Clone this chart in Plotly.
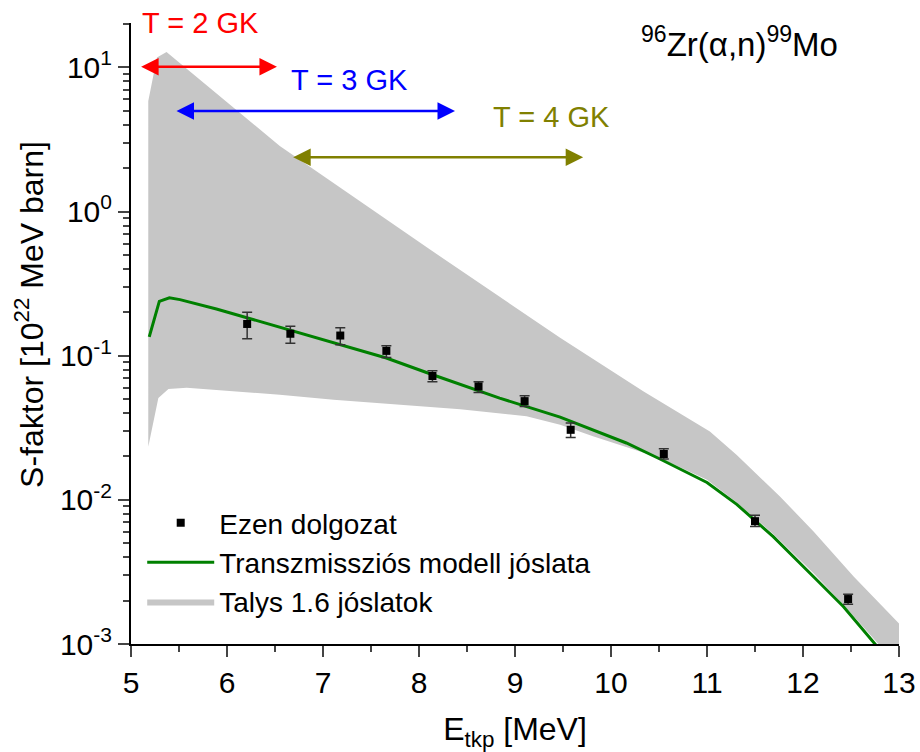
import math
import plotly.graph_objects as go

# Measured S-factor (this work)
exp_e = [6.21, 6.66, 7.18, 7.66, 8.14, 8.62, 9.10, 9.58, 10.55, 11.50, 12.47]
exp_s = [0.166, 0.142, 0.138, 0.108, 0.0723, 0.0612, 0.0484, 0.0306, 0.0208, 0.00711, 0.00205]
exp_s_hi = [0.200, 0.160, 0.156, 0.117, 0.0787, 0.0660, 0.0527, 0.0341, 0.0226, 0.00783, 0.00221]
exp_s_lo = [0.131, 0.122, 0.119, 0.097, 0.0660, 0.0556, 0.0445, 0.0271, 0.0192, 0.00653, 0.00189]

# Transmission model prediction
model_e = [5.19, 5.295, 5.40, 5.51, 5.89, 7.11, 7.66, 8.15, 8.43, 8.84, 9.47, 10.16,
           10.51, 11.0, 11.31, 11.69, 12.11, 12.42, 12.75, 13.0]
model_s = [0.135, 0.238, 0.252, 0.245, 0.211, 0.122, 0.0964, 0.0735, 0.0630, 0.0508, 0.0375, 0.0248,
           0.0192, 0.0132, 0.0093, 0.00556, 0.00293, 0.00182, 0.00100, 0.00068]

# Talys 1.6 prediction band: upper and lower envelope
talys_up_e = [5.18, 5.27, 5.37, 6.55, 8.115, 9.47, 10.34, 11.03, 11.31, 11.76, 12.11, 12.53, 13.0]
talys_up_s = [5.84, 11.7, 12.8, 2.85, 0.545, 0.133, 0.0565, 0.0298, 0.0205, 0.01055, 0.00604, 0.00293, 0.00139]
talys_lo_e = [5.18, 5.285, 5.39, 5.58, 6.55, 7.11, 8.43, 9.12, 9.47, 9.82, 10.51, 11.0, 11.3,
              11.69, 12.11, 12.42, 12.78, 13.0]
talys_lo_s = [0.0234, 0.0508, 0.0587, 0.0600, 0.0536, 0.0494, 0.0425, 0.0380, 0.0332, 0.0275, 0.0195,
              0.0138, 0.0097, 0.0058, 0.0031, 0.00188, 0.00101, 0.0007]

# Gamow windows (energy ranges) for different temperatures
gamow_labels = ["T = 2 GK", "T = 3 GK", "T = 4 GK"]
gamow_e_lo = [5.09, 5.458, 6.674]
gamow_e_hi = [6.52, 8.375, 9.71]
gamow_level = [10.1, 4.98, 2.38]
gamow_colors = ["#ff0000", "#0000ff", "#808000"]

x_ticks = [5, 6, 7, 8, 9, 10, 11, 12, 13]
y_tickvals = [1e-3, 1e-2, 1e-1, 1e0, 1e1]
y_ticktext = ["10<sup>-3</sup>", "10<sup>-2</sup>", "10<sup>-1</sup>", "10<sup>0</sup>", "10<sup>1</sup>"]

FONT = "Liberation Sans, Arial, sans-serif"

fig = go.Figure()

fig.add_trace(go.Scatter(
    x=talys_up_e + talys_lo_e[::-1],
    y=talys_up_s + talys_lo_s[::-1],
    fill="toself", fillcolor="#c6c6c6", mode="lines",
    line=dict(width=0, color="#c6c6c6"),
    name="Talys 1.6 jóslatok", legendrank=3, hoverinfo="skip",
))

fig.add_trace(go.Scatter(
    x=model_e, y=model_s, mode="lines",
    line=dict(color="#008000", width=3),
    name="Transzmissziós modell jóslata", legendrank=2,
))

fig.add_trace(go.Scatter(
    x=exp_e, y=exp_s, mode="markers",
    marker=dict(symbol="square", size=8, color="black"),
    error_y=dict(
        type="data", symmetric=False,
        array=[h - s for h, s in zip(exp_s_hi, exp_s)],
        arrayminus=[s - l for s, l in zip(exp_s, exp_s_lo)],
        color="#333333", thickness=1.5, width=5,
    ),
    name="Ezen dolgozat", legendrank=1,
))

minor_y = [m * 10 ** d for d in range(-3, 2) for m in range(2, 10)]

fig.update_xaxes(
    range=[5, 13], tickvals=x_ticks, ticks="outside", ticklen=11, tickwidth=2,
    showline=True, linewidth=2, linecolor="black", showgrid=False, zeroline=False,
    automargin=False,
    minor=dict(tickvals=[5.5 + i for i in range(8)], ticks="outside", ticklen=6, tickwidth=2, showgrid=False),
    tickfont=dict(size=30, color="black", family=FONT),
    title=dict(text="E<sub>tkp</sub> [MeV]", font=dict(size=32, color="black", family=FONT), standoff=28),
)
fig.update_yaxes(
    type="log", range=[-3, 1.308], tickvals=y_tickvals, ticktext=y_ticktext,
    ticks="outside", ticklen=11, tickwidth=2,
    showline=True, linewidth=2, linecolor="black", showgrid=False, zeroline=False,
    automargin=False,
    minor=dict(tickvals=minor_y, ticks="outside", ticklen=6, tickwidth=2, showgrid=False),
    tickfont=dict(size=30, color="black", family=FONT),
)

annotations = []
for label, e0, e1, s, col in zip(gamow_labels, gamow_e_lo, gamow_e_hi, gamow_level, gamow_colors):
    ly = math.log10(s)
    annotations.append(dict(
        x=e1, y=ly, ax=e0, ay=ly, xref="x", yref="y", axref="x", ayref="y",
        text="", showarrow=True, arrowhead=2, arrowside="end+start",
        arrowsize=1.4, arrowwidth=2.5, arrowcolor=col, standoff=0, startstandoff=0,
    ))

annotations += [
    dict(x=5.094, y=1.0, xref="x", yref="paper", xanchor="left", yanchor="middle",
         text=gamow_labels[0], showarrow=False, font=dict(size=29, color=gamow_colors[0], family=FONT)),
    dict(x=7.28, y=0.908, xref="x", yref="paper", xanchor="center", yanchor="middle",
         text=gamow_labels[1], showarrow=False, font=dict(size=29, color=gamow_colors[1], family=FONT)),
    dict(x=9.375, y=0.849, xref="x", yref="paper", xanchor="center", yanchor="middle",
         text=gamow_labels[2], showarrow=False, font=dict(size=29, color=gamow_colors[2], family=FONT)),
    dict(x=11.34, y=0.969, xref="x", yref="paper", xanchor="center", yanchor="middle",
         text="<sup>96</sup>Zr(α,n)<sup>99</sup>Mo", showarrow=False,
         font=dict(size=33, color="black", family=FONT)),
    # y-axis title
    dict(x=-0.1328, y=0.530, xref="paper", yref="paper", xanchor="center", yanchor="middle",
         text="S-faktor [10<sup>22</sup> MeV barn]", textangle=-90, showarrow=False,
         font=dict(size=32, color="black", family=FONT)),
]

fig.update_layout(
    width=920, height=752,
    margin=dict(l=131, r=21, t=23, b=108),
    paper_bgcolor="white", plot_bgcolor="white",
    font=dict(family=FONT, color="black"),
    showlegend=True,
    legend=dict(x=0.0146, y=0.235, xanchor="left", yanchor="top",
                bgcolor="rgba(0,0,0,0)", font=dict(size=28, color="black", family=FONT),
                itemwidth=67, tracegroupgap=0),
    annotations=annotations,
)

fig.write_html("out.html")
